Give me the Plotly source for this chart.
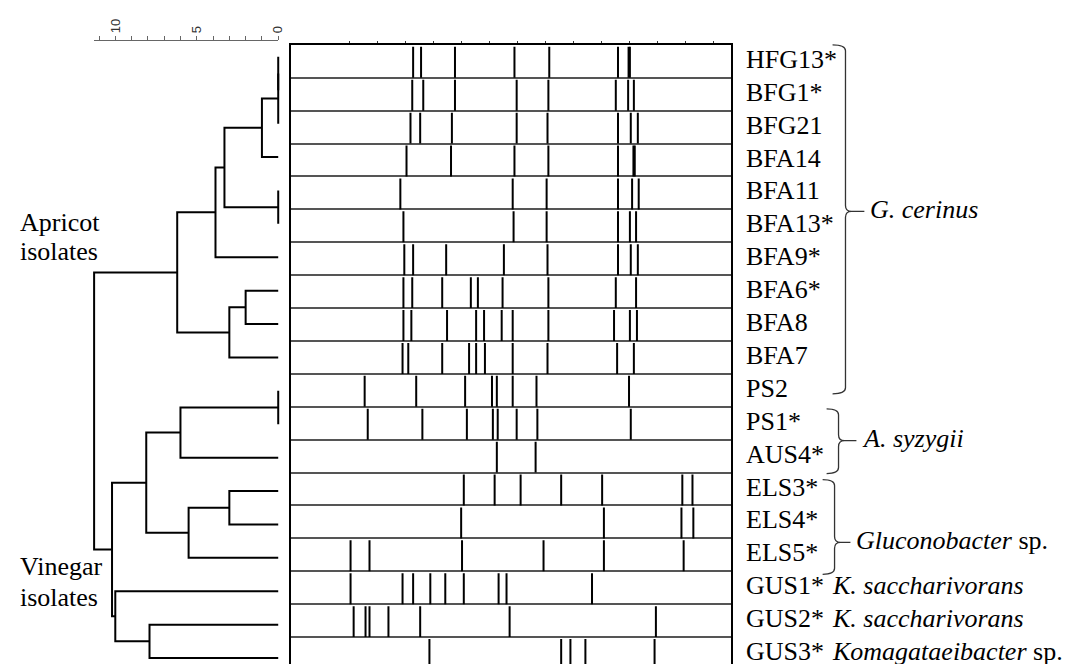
import plotly.graph_objects as go

W, H = 1070, 664

# ---------------- data ----------------
isolates = ["HFG13*", "BFG1*", "BFG21", "BFA14", "BFA11", "BFA13*", "BFA9*", "BFA6*", "BFA8", "BFA7",
            "PS2", "PS1*", "AUS4*", "ELS3*", "ELS4*", "ELS5*", "GUS1*", "GUS2*", "GUS3*"]

# UPGMA-style linkage; new cluster ids start at 19 in merge order
merge_a = [0, 19, 20, 4, 21, 23, 7, 25, 24, 10, 28, 13, 30, 29, 17, 16, 32, 27]
merge_b = [1, 2, 3, 5, 22, 6, 8, 9, 26, 11, 12, 14, 15, 31, 18, 33, 34, 35]
merge_h = [0.0, 0.0, 1.0, 0.0, 3.3, 3.85, 2.0, 3.0, 6.2, 0.0, 6.0, 3.0, 5.5, 8.1, 7.9, 10.0, 10.2, 11.3]

# band positions (% of lane length)
bands_HFG13 = [27.8, 29.6, 37.3, 50.8, 58.7, 74.3, 76.7, 77.0]
bands_BFG1 = [27.6, 30.1, 37.3, 51.3, 58.5, 73.8, 76.6, 77.9]
bands_BFG21 = [27.2, 29.4, 36.6, 51.3, 58.3, 74.3, 77.2, 78.8]
bands_BFA14 = [26.3, 36.4, 50.8, 58.5, 74.3, 77.8, 78.1]
bands_BFA11 = [24.9, 50.4, 58.1, 74.3, 77.5, 79.0]
bands_BFA13 = [25.6, 50.6, 58.1, 74.3, 77.0, 78.4]
bands_BFA9 = [25.8, 27.8, 35.3, 48.4, 58.3, 74.3, 77.2, 78.8]
bands_BFA6 = [25.6, 27.6, 34.4, 40.9, 42.5, 48.1, 58.5, 73.8, 78.4]
bands_BFA8 = [25.6, 27.4, 35.5, 42.1, 43.9, 47.9, 50.4, 58.5, 73.4, 77.0, 78.6]
bands_BFA7 = [25.4, 26.7, 34.4, 40.5, 42.1, 44.1, 50.4, 58.3, 74.1, 77.9]
bands_PS2 = [16.8, 28.5, 39.6, 45.7, 46.8, 50.4, 55.8, 76.8]
bands_PS1 = [17.5, 29.9, 40.0, 45.9, 47.0, 51.3, 56.0, 77.2]
bands_AUS4 = [46.8, 55.6]
bands_ELS3 = [39.3, 46.3, 52.2, 61.4, 70.7, 88.9, 91.2]
bands_ELS4 = [38.7, 71.1, 88.7, 91.4]
bands_ELS5 = [13.6, 17.9, 38.9, 57.4, 71.1, 89.2]
bands_GUS1 = [13.6, 25.4, 27.8, 31.7, 35.1, 39.3, 47.2, 49.0, 68.4]
bands_GUS2 = [14.3, 17.0, 17.9, 22.2, 29.4, 49.7, 82.9]
bands_GUS3 = [31.5, 61.4, 63.5, 66.9, 82.6]

band_rows = [bands_HFG13, bands_BFG1, bands_BFG21, bands_BFA14, bands_BFA11, bands_BFA13, bands_BFA9,
             bands_BFA6, bands_BFA8, bands_BFA7, bands_PS2, bands_PS1, bands_AUS4, bands_ELS3,
             bands_ELS4, bands_ELS5, bands_GUS1, bands_GUS2, bands_GUS3]

scale_ticks = list(range(0, 12))
scale_labels = ["0", "", "", "", "", "5", "", "", "", "", "10", ""]

group_names = ["<i>G. cerinus</i>", "<i>A. syzygii</i>", "<i>Gluconobacter</i> sp."]
single_species = {16: "<i>K. saccharivorans</i>", 17: "<i>K. saccharivorans</i>",
                  18: "<i>Komagataeibacter</i> sp."}

# ---------------- helpers ----------------
def X(px):
    return px / W


def Y(py):
    return 1 - py / H


serif = "Liberation Serif, Times New Roman, serif"

# ---------------- dendrogram ----------------
n = len(isolates)
pos = {i: float(i) for i in range(n)}
hgt = {i: 0.0 for i in range(n)}
dx, dy = [], []
for k, (a, b, h) in enumerate(zip(merge_a, merge_b, merge_h)):
    nid = n + k
    dx += [hgt[a], h, h, hgt[b], None]
    dy += [pos[a], pos[a], pos[b], pos[b], None]
    pos[nid] = (pos[a] + pos[b]) / 2
    hgt[nid] = h

fig = go.Figure()
fig.add_trace(go.Scatter(x=dx, y=dy, mode="lines", line=dict(color="black", width=2),
                         xaxis="x", yaxis="y", hoverinfo="skip", showlegend=False))
# invisible trace to carry the scale-bar axis
fig.add_trace(go.Scatter(x=[0], y=[0], mode="markers", marker=dict(opacity=0),
                         xaxis="x2", yaxis="y", hoverinfo="skip", showlegend=False))

# ---------------- band patterns ----------------
bx, by = [], []
for r, row in enumerate(band_rows):
    for b in row:
        bx += [b, b, None]
        by += [r - 0.44, r + 0.5, None]
fig.add_trace(go.Scatter(x=bx, y=by, mode="lines", line=dict(color="black", width=2),
                         xaxis="x3", yaxis="y2", hoverinfo="skip", showlegend=False))

# ---------------- axes ----------------
px_per_unit = 16.4
zero_px = 272.0
fig.update_layout(
    width=W, height=H,
    margin=dict(l=0, r=0, t=0, b=0, pad=0),
    paper_bgcolor="white", plot_bgcolor="rgba(0,0,0,0)",
    showlegend=False,
    xaxis=dict(domain=[0, 280 / W], range=[zero_px / px_per_unit, (zero_px - 280) / px_per_unit],
               visible=False, anchor="y"),
    yaxis=dict(domain=[0, 1], range=[(H - 49) / 33.5, -49 / 33.5], visible=False, anchor="x"),
    xaxis2=dict(domain=[(zero_px - 11.3 * px_per_unit) / W, zero_px / W], range=[11.3, 0],
                anchor="free", position=Y(32), side="top",
                showline=True, linecolor="#666", linewidth=1,
                ticks="outside", ticklen=4, tickcolor="#666", tickwidth=1,
                tickmode="array", tickvals=scale_ticks, ticktext=scale_labels,
                tickangle=-90, tickfont=dict(family="Liberation Sans, Arial, sans-serif", size=13, color="#333"),
                showgrid=False, zeroline=False, fixedrange=True),
    xaxis3=dict(domain=[284.5 / W, 728 / W], range=[0, 100], anchor="y2", side="top",
                showline=True, mirror=True, linecolor="black", linewidth=2,
                ticks="outside", ticklen=2, tickcolor="#333",
                tickmode="array", tickvals=[13.26 + 6.36 * k for k in range(14)],
                showticklabels=False, showgrid=False, zeroline=False),
    yaxis2=dict(domain=[0, Y(37)], range=[n - 0.5, -0.5], anchor="x3",
                showline=True, mirror=True, linecolor="black", linewidth=2,
                tickmode="array", tickvals=[i - 0.5 for i in range(n + 1)],
                showticklabels=False, ticks="",
                showgrid=True, gridcolor="#555", gridwidth=1.5, zeroline=False),
)

# ---------------- labels ----------------
lab_font = dict(family=serif, size=26, color="black")
ann = []
for i, name in enumerate(isolates):
    ann.append(dict(x=X(741), xref="paper", y=i, yref="y2", yshift=2, text=name, showarrow=False,
                    xanchor="left", yanchor="middle", font=lab_font))
for i, sp in single_species.items():
    ann.append(dict(x=X(827), xref="paper", y=i, yref="y2", yshift=2, text=sp, showarrow=False,
                    xanchor="left", yanchor="middle", font=lab_font))

for txt, yy in [("Apricot", 215), ("isolates", 244), ("Vinegar", 560), ("isolates", 591)]:
    ann.append(dict(x=X(10), xref="paper", y=Y(yy), yref="paper", text=txt, showarrow=False,
                    xanchor="left", yanchor="middle", font=lab_font))

# braces with group names
braces = [
    # xl, xv, xt, ytop, ybot, ytip, label x
    (830, 843, 862, 37, 387, 204, 866),
    (824, 836, 854, 402, 467, 434, 858),
    (820, 832, 848, 473, 568, 536, 852),
]
shapes = []
r = 6
for (xl, xv, xt, yt, yb, ym, lx), gname in zip(braces, group_names):
    p = (f"M {X(xl)},{Y(yt)} Q {X(xv)},{Y(yt)} {X(xv)},{Y(yt + r)} L {X(xv)},{Y(ym - r)} "
         f"Q {X(xv)},{Y(ym)} {X(xv + r)},{Y(ym)} L {X(xt)},{Y(ym)} "
         f"M {X(xv + r)},{Y(ym)} Q {X(xv)},{Y(ym)} {X(xv)},{Y(ym + r)} L {X(xv)},{Y(yb - r)} "
         f"Q {X(xv)},{Y(yb)} {X(xl)},{Y(yb)}")
    shapes.append(dict(type="path", path=p, xref="paper", yref="paper",
                       line=dict(color="#333", width=1.3)))
    ann.append(dict(x=X(lx), xref="paper", y=Y(ym) + 2 / H, yref="paper", text=gname, showarrow=False,
                    xanchor="left", yanchor="middle", font=lab_font))

fig.update_layout(annotations=ann, shapes=shapes)
fig.write_html("out.html")
